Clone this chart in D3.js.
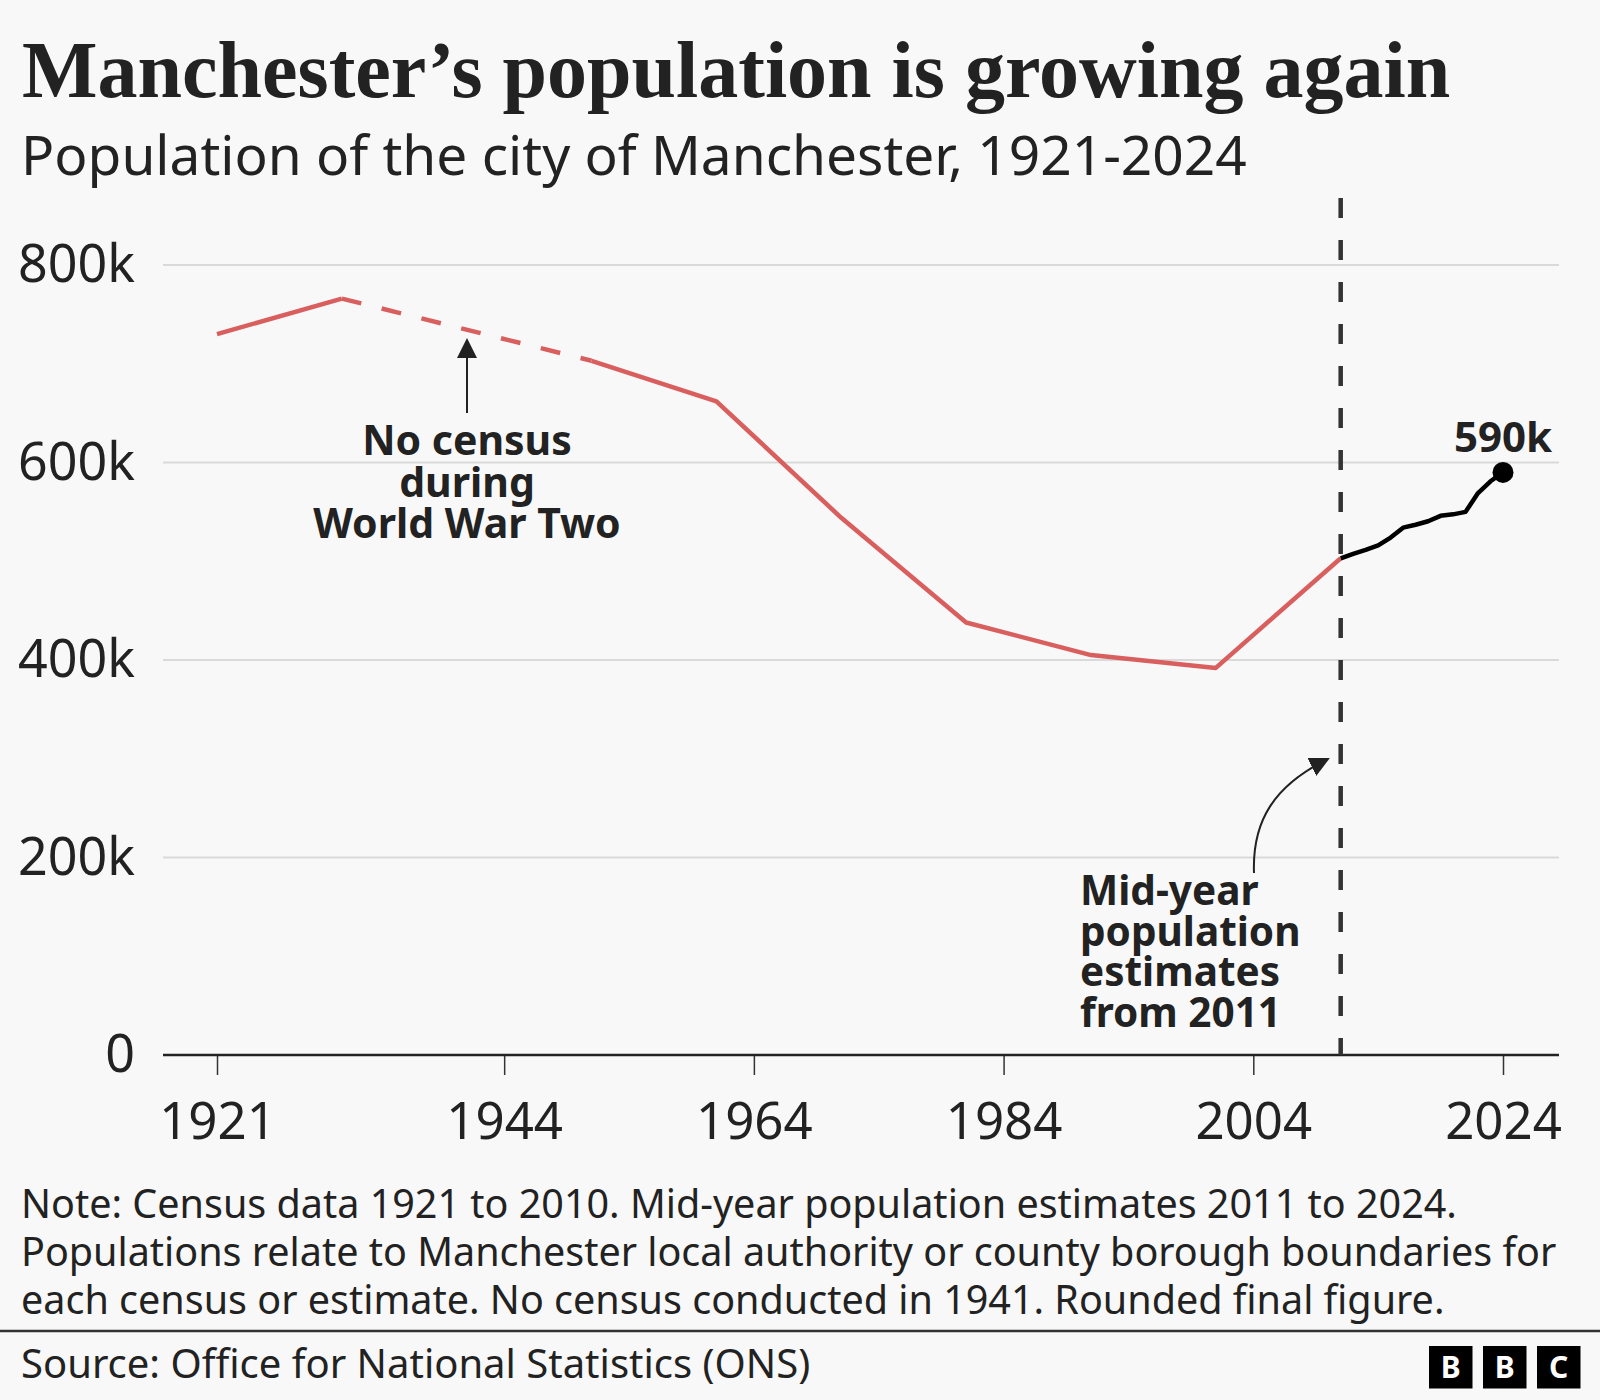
<!DOCTYPE html>
<html>
<head>
<meta charset="utf-8">
<script src="https://cdn.jsdelivr.net/npm/d3@7"></script>
<style>
  html, body { margin: 0; padding: 0; background: #f8f8f8; }
  svg { display: block; }
  text { font-family: "Noto Sans", sans-serif; fill: #222; }
</style>
</head>
<body>
<svg id="chart" width="1600" height="1400"></svg>
<script>
// ---- Data (population in thousands) ----
const censusYears = [1921, 1931, 1951, 1961, 1971, 1981, 1991, 2001, 2011];
const censusPop   = [730, 766, 703, 662, 544, 438, 405, 392, 503];
const estimateYears = [2011, 2012, 2013, 2014, 2015, 2016, 2017, 2018, 2019, 2020, 2021, 2022, 2023, 2024];
const estimatePop   = [503, 507.5, 511.5, 516, 524, 534, 537, 540.5, 546, 547.5, 550, 569, 581, 590];
const xTickValues = [1921, 1944, 1964, 1984, 2004, 2024];
const yTickValues = [0, 200, 400, 600, 800];
const gapStartYear = 1931, gapEndYear = 1951, estimateStartYear = 2011;

const title = "Manchester\u2019s population is growing again";
const subtitle = "Population of the city of Manchester, 1921-2024";
const noteLines = [
  "Note: Census data 1921 to 2010. Mid-year population estimates 2011 to 2024.",
  "Populations relate to Manchester local authority or county borough boundaries for",
  "each census or estimate. No census conducted in 1941. Rounded final figure."
];
const source = "Source: Office for National Statistics (ONS)";

const RED = "#d95f5f", DARK = "#222222";

const svg = d3.select("#chart");
svg.append("rect").attr("width", 1600).attr("height", 1400).attr("fill", "#f8f8f8");

// Titles
svg.append("text").attr("x", 22).attr("y", 97)
  .style("font-family", "'Liberation Serif', serif").style("font-weight", "700")
  .style("font-size", "80px").text(title);
svg.append("text").attr("x", 21).attr("y", 175)
  .style("font-size", "55px").text(subtitle);

// Scales
const plotLeft = 163, plotRight = 1559;
const x = d3.scaleLinear().domain([1921, 2024]).range([217, 1503]);
const y = d3.scaleLinear().domain([0, 800]).range([1055, 265]);

// Gridlines
svg.append("g").selectAll("line").data(yTickValues.filter(d => d > 0)).join("line")
  .attr("x1", plotLeft).attr("x2", plotRight)
  .attr("y1", d => y(d)).attr("y2", d => y(d))
  .attr("stroke", "#d9d9d9").attr("stroke-width", 2);

// Y axis labels
const yAxis = svg.append("g").attr("transform", `translate(${plotLeft},0)`)
  .call(d3.axisLeft(y).tickValues(yTickValues).tickSize(0).tickPadding(28)
    .tickFormat(d => d === 0 ? "0" : d + "k"));
yAxis.select(".domain").remove();
yAxis.selectAll("text").style("font-family", "'Noto Sans', sans-serif")
  .style("font-size", "52px").attr("fill", DARK);

// X axis
const xAxis = svg.append("g").attr("transform", `translate(0,${y(0)})`)
  .call(d3.axisBottom(x).tickValues(xTickValues).tickSize(20).tickPadding(28)
    .tickFormat(d3.format("d")));
xAxis.select(".domain").remove();
xAxis.selectAll(".tick line").attr("stroke", "#333").attr("stroke-width", 1.5);
xAxis.selectAll("text").style("font-family", "'Noto Sans', sans-serif")
  .style("font-size", "51px").attr("fill", DARK);
svg.append("line").attr("x1", plotLeft).attr("x2", plotRight)
  .attr("y1", y(0)).attr("y2", y(0)).attr("stroke", DARK).attr("stroke-width", 2.5);

// Vertical dashed line at 2011
svg.append("line").attr("x1", x(estimateStartYear)).attr("x2", x(estimateStartYear))
  .attr("y1", 198).attr("y2", y(0))
  .attr("stroke", "#333").attr("stroke-width", 4.5).attr("stroke-dasharray", "20,22");

// Lines
const census = censusYears.map((yr, i) => ({ year: yr, v: censusPop[i] }));
const estimates = estimateYears.map((yr, i) => ({ year: yr, v: estimatePop[i] }));
const line = d3.line().x(d => x(d.year)).y(d => y(d.v));

const seg1 = census.filter(d => d.year <= gapStartYear);
const seg2 = census.filter(d => d.year >= gapStartYear && d.year <= gapEndYear);
const seg3 = census.filter(d => d.year >= gapEndYear);

svg.append("path").datum(seg1).attr("d", line).attr("fill", "none")
  .attr("stroke", RED).attr("stroke-width", 4.5).attr("stroke-linejoin", "round");
svg.append("path").datum(seg2).attr("d", line).attr("fill", "none")
  .attr("stroke", RED).attr("stroke-width", 4.5).attr("stroke-dasharray", "20,21");
svg.append("path").datum(seg3).attr("d", line).attr("fill", "none")
  .attr("stroke", RED).attr("stroke-width", 4.5).attr("stroke-linejoin", "round");

svg.append("path").datum(estimates).attr("d", line).attr("fill", "none")
  .attr("stroke", "#000").attr("stroke-width", 4.5).attr("stroke-linejoin", "round");

const last = estimates[estimates.length - 1];
svg.append("circle").attr("cx", x(last.year)).attr("cy", y(last.v)).attr("r", 10.5).attr("fill", "#000");
svg.append("text").attr("x", x(last.year)).attr("y", y(last.v) - 20)
  .attr("text-anchor", "middle").style("font-weight", "700").style("font-size", "42px")
  .text(Math.round(last.v) + "k");

// Arrow marker
const defs = svg.append("defs");
defs.append("marker").attr("id", "arrow").attr("viewBox", "0 0 10 10")
  .attr("refX", 9).attr("refY", 5).attr("markerWidth", 20).attr("markerHeight", 20)
  .attr("markerUnits", "userSpaceOnUse").attr("orient", "auto")
  .append("path").attr("d", "M0,0 L10,5 L0,10 Z").attr("fill", DARK);

// Annotation: No census during WW2
const annX = 467;
svg.append("line").attr("x1", annX).attr("x2", annX).attr("y1", 413).attr("y2", 340)
  .attr("stroke", DARK).attr("stroke-width", 2).attr("marker-end", "url(#arrow)");
const ann1 = ["No census", "during", "World War Two"];
svg.append("text").attr("text-anchor", "middle").style("font-weight", "700").style("font-size", "41px")
  .selectAll("tspan").data(ann1).join("tspan")
  .attr("x", annX).attr("y", (d, i) => 455 + i * 41.5).text(d => d);

// Annotation: Mid-year estimates
const ann2 = ["Mid-year", "population", "estimates", "from 2011"];
svg.append("text").style("font-weight", "700").style("font-size", "40.5px")
  .selectAll("tspan").data(ann2).join("tspan")
  .attr("x", 1080).attr("y", (d, i) => 905 + i * 40.6).text(d => d);
svg.append("path").attr("d", "M1254,873 C1252,820 1275,785 1328,759")
  .attr("fill", "none").attr("stroke", DARK).attr("stroke-width", 2).attr("marker-end", "url(#arrow)");

// Note
svg.append("text").style("font-size", "39.5px")
  .selectAll("tspan").data(noteLines).join("tspan")
  .attr("x", 21).attr("y", (d, i) => 1218 + i * 48).text(d => d);

// Footer rule
svg.append("line").attr("x1", 0).attr("x2", 1600).attr("y1", 1331).attr("y2", 1331)
  .attr("stroke", "#333").attr("stroke-width", 2.5);
svg.append("text").attr("x", 21).attr("y", 1378).style("font-size", "40px").text(source);

// BBC logo
const logoLetters = ["B", "B", "C"];
const logo = svg.append("g");
logo.selectAll("rect").data(logoLetters).join("rect")
  .attr("x", (d, i) => 1429 + i * 54).attr("y", 1346).attr("width", 43.5).attr("height", 42.5).attr("fill", "#000");
logo.selectAll("text").data(logoLetters).join("text")
  .attr("x", (d, i) => 1429 + i * 54 + 21.75).attr("y", 1378)
  .attr("text-anchor", "middle").style("font-weight", "700").style("font-size", "30px")
  .style("fill", "#fff").text(d => d);
</script>
</body>
</html>
